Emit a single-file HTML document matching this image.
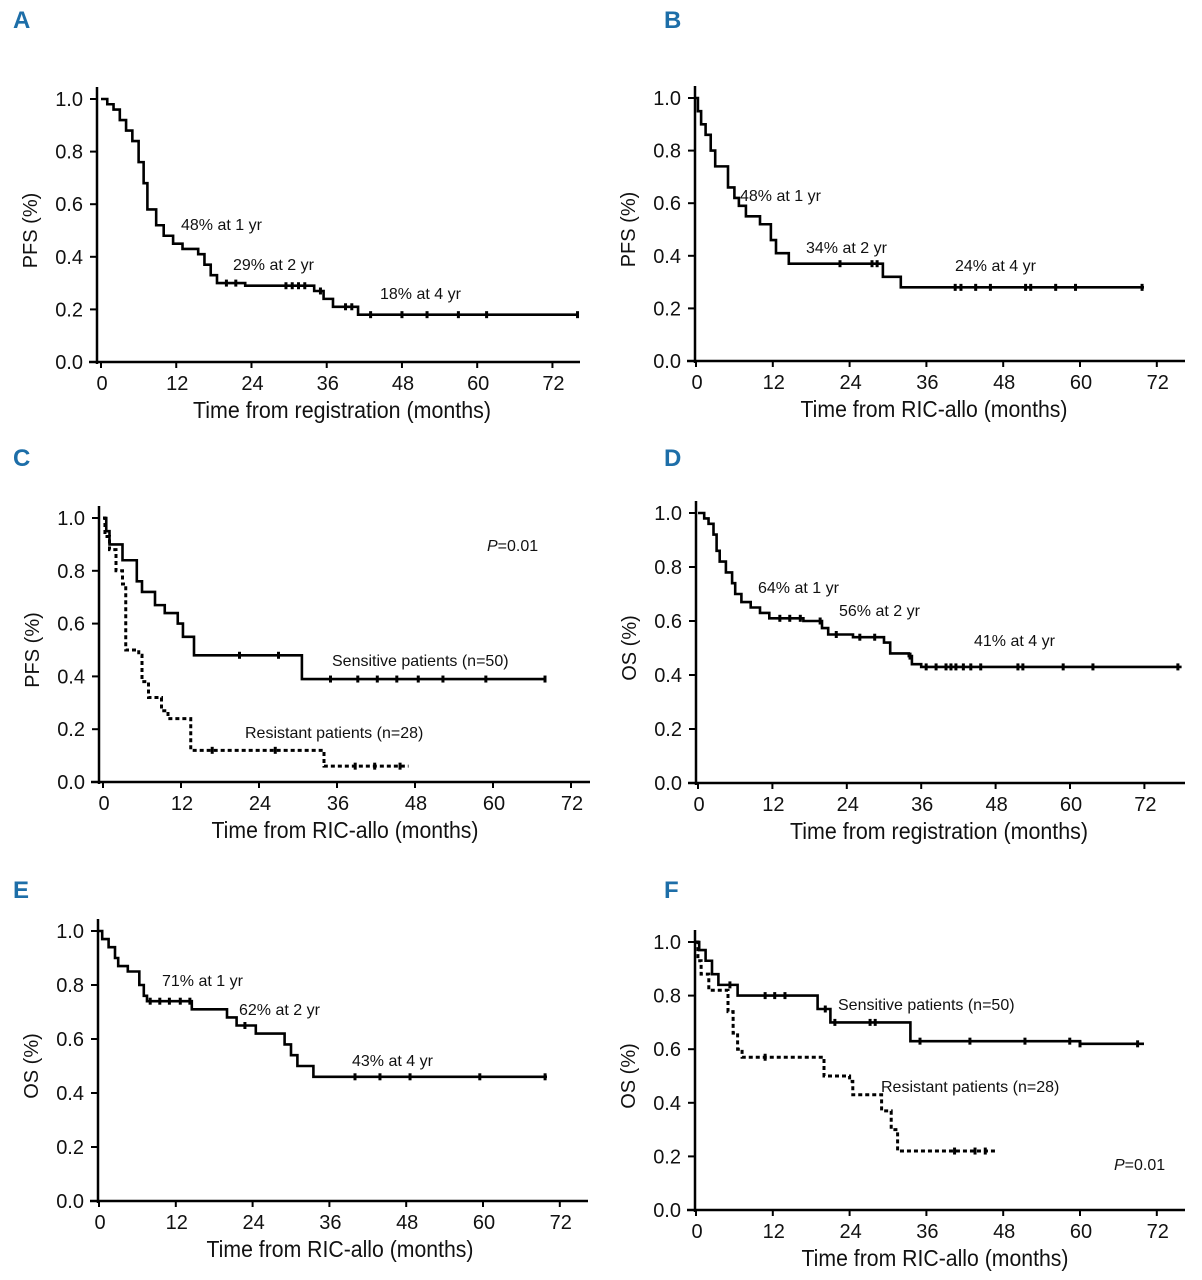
<!DOCTYPE html>
<html><head><meta charset="utf-8"><style>
body{margin:0;background:#fff;}
svg{display:block;font-family:"Liberation Sans Narrow","Liberation Sans",sans-serif;}
.tk{font-size:20px;fill:#111;}
.ttl{font-size:23px;fill:#111;}
.ann{font-size:16px;fill:#111;}
.let{font-size:24px;font-weight:bold;fill:#1d6ea8;font-family:"Liberation Sans Narrow","Liberation Sans",sans-serif;}
</style></head><body>
<svg id="fig" width="1202" height="1280" viewBox="0 0 1202 1280"></svg>
<script>
// Panel A data
const aTimes=[0,1,2,3,4,5,6,6.8,7.4,8.8,10,11.5,13,15.5,16.5,17.5,18.5,23,34,35.5,37,41,76];
const aSurv=[1,0.98,0.96,0.92,0.88,0.84,0.76,0.68,0.58,0.52,0.48,0.45,0.43,0.41,0.37,0.33,0.30,0.29,0.27,0.24,0.21,0.18,0.18];
const aCens=[20,21.5,29.5,30.5,31.5,32.5,35,39,40,43,48,52,57,61.5,76];
// Panel B data
const bTimes=[0,0.3,0.8,1.5,2.3,3,5,6,6.7,7.8,10,11.7,12.5,14.5,29.2,32,70];
const bSurv=[1,0.95,0.90,0.86,0.80,0.74,0.66,0.62,0.59,0.55,0.52,0.46,0.41,0.37,0.32,0.28,0.28];
const bCens=[22.5,27.5,28.3,40.5,41.4,43.7,46,51.5,52.3,56.2,59.3,69.7];
// Panel C data
const cSensTimes=[0,0.5,1,3,5.2,6,8,9.5,11.5,12.3,14,30.6,68];
const cSensSurv=[1,0.95,0.90,0.84,0.76,0.72,0.67,0.64,0.60,0.55,0.48,0.39,0.39];
const cSensCens=[21,27,35,39.2,42.2,45.2,48.5,52.3,58.9,68];
const cResTimes=[0,0.3,1,2,3,3.5,5.5,6,7,9,10,13.5,34,47];
const cResSurv=[1,0.93,0.88,0.80,0.75,0.50,0.48,0.38,0.32,0.27,0.24,0.12,0.06,0.06];
const cResCens=[16.8,26.5,38.8,41.8,45.7];
// Panel D data
const dTimes=[0,1,1.7,2.5,3,3.5,4.5,5.5,6,7,8.5,10,11.5,17,20,21,25,30,31,34,34.5,36,78];
const dSurv=[1,0.98,0.96,0.92,0.86,0.82,0.78,0.74,0.70,0.67,0.65,0.63,0.61,0.60,0.574,0.55,0.54,0.52,0.48,0.47,0.44,0.43,0.43];
const dCens=[13.2,14.8,16.5,19.7,22.3,26.1,28.5,34.2,36.8,38.4,40,40.8,41.6,42.8,44,45.6,51.6,52.4,58.9,63.7,77.4];
// Panel E data
const eTimes=[0,0.5,1.5,2.5,3,4.5,6.3,7,7.5,14.5,20,21.5,24.5,29,30,31,33.5,70];
const eSurv=[1,0.97,0.94,0.90,0.87,0.85,0.80,0.76,0.74,0.71,0.68,0.65,0.62,0.58,0.54,0.50,0.46,0.46];
const eCens=[8,9.5,11,12.7,14.2,22.8,40,43.9,48.6,59.5,69.7];
// Panel F data
const fSensTimes=[0,0.5,1.5,2.5,3.5,6.5,19,21,33.5,60,70];
const fSensSurv=[1,0.97,0.93,0.88,0.84,0.80,0.75,0.70,0.63,0.62,0.62];
const fSensCens=[5.3,10.8,12.3,13.9,20.2,21.7,27.2,28,35,42.8,51.4,58.4,60,69];
const fResTimes=[0,0.3,0.8,2,5,5.8,6.5,7.2,20,24,24.5,29,30.5,31.5,47];
const fResSurv=[1,0.93,0.88,0.82,0.74,0.66,0.60,0.57,0.50,0.48,0.43,0.37,0.30,0.22,0.22];
const fResCens=[10.8,40.4,43.6,45.2];

const yTicks=[0,0.2,0.4,0.6,0.8,1.0];
const yTickLabels=["0.0","0.2","0.4","0.6","0.8","1.0"];
const xTicks=[0,12,24,36,48,60,72];

const NS="http://www.w3.org/2000/svg";
const svg=document.getElementById('fig');
function mk(tag,attrs,parent){const e=document.createElementNS(NS,tag);for(const k in attrs)e.setAttribute(k,attrs[k]);(parent||svg).appendChild(e);return e;}
function survAt(times,surv,t){let s=surv[0];for(let i=0;i<times.length;i++){if(times[i]<=t)s=surv[i];}return s;}

function panel(cfg){
  const g=mk('g',{});
  
  
  const xs=t=>cfg.x0+t*cfg.ppm;
  const ys=v=>cfg.yb-(cfg.yb-cfg.yt)*v;
  const L=mk('text',{x:cfg.lx,y:cfg.ly,class:'let'},g);L.textContent=cfg.id;
  
  
  const ya=mk('line',{x1:cfg.ax,y1:cfg.yt-12,x2:cfg.ax,y2:cfg.yb+2,stroke:'#000','stroke-width':2.5},g);
  
  
  const xa=mk('line',{x1:cfg.ax-8,y1:cfg.yb,x2:cfg.xend,y2:cfg.yb,stroke:'#000','stroke-width':2.5},g);
  
  
  yTicks.forEach((v,i)=>{
    mk('line',{x1:cfg.ax-7,y1:ys(v),x2:cfg.ax,y2:ys(v),stroke:'#000','stroke-width':2},g);
    const t=mk('text',{x:cfg.ax-14,y:ys(v)+7,class:'tk','text-anchor':'end'},g);t.textContent=yTickLabels[i];
    
    
  });
  xTicks.forEach(v=>{
    mk('line',{x1:xs(v),y1:cfg.yb,x2:xs(v),y2:cfg.yb+6,stroke:'#000','stroke-width':2},g);
    const t=mk('text',{x:xs(v)+1,y:cfg.yb+28,class:'tk','text-anchor':'middle'},g);t.textContent=String(v);
    
    
  });
  const xt=mk('text',{x:cfg.xtx,y:cfg.yb+56,class:'ttl','text-anchor':'middle',textLength:cfg.xtlen,lengthAdjust:'spacingAndGlyphs'},g);xt.textContent=cfg.xtitle;
  
  
  const yy=(cfg.yt+cfg.yb)/2;
  const yt=mk('text',{x:cfg.ax-60,y:yy,class:'ttl','text-anchor':'middle',transform:`rotate(-90 ${cfg.ax-60} ${yy})`,style:'font-size:20px'},g);yt.textContent=cfg.ytitle;
  
  
  cfg.series.forEach(s=>{
    let d=`M${xs(s.times[0])},${ys(s.surv[0])}`;
    for(let i=1;i<s.times.length;i++){d+=` H${xs(s.times[i])} V${ys(s.surv[i])}`;}
    const p=mk('path',{d:d,fill:'none',stroke:'#000','stroke-width':s.dash?3:2.6,'stroke-dasharray':s.dash?'4 3':'none'},g);
    
    
    s.cens.forEach(t=>{
      const v=survAt(s.times,s.surv,t);
      const c=mk('rect',{x:xs(t)-1.5,y:ys(v)-3.5,width:3,height:7,fill:'#000'},g);
      
      
    });
  });
  cfg.anns.forEach(a=>{
    const t=mk('text',{x:a[0],y:a[1],class:'ann'},g);
    if(a[2].startsWith('P=')){const i=mk('tspan',{'font-style':'italic'},t);i.textContent='P';const r=mk('tspan',{},t);r.textContent=a[2].slice(1);}
    else t.textContent=a[2];
    
    
  });
}

panel({id:'A',lx:13,ly:28,ax:97,x0:101,ppm:6.27,yt:99,yb:362,xend:580,xtx:342,xtlen:298,xtitle:'Time from registration (months)',ytitle:'PFS (%)',
  series:[{name:'pfs-curve',times:aTimes,surv:aSurv,cens:aCens}],
  anns:[[181,230,'48% at 1 yr'],[233,270,'29% at 2 yr'],[380,299,'18% at 4 yr']]});
panel({id:'B',lx:664,ly:28,ax:695,x0:696,ppm:6.4,yt:98,yb:361,xend:1185,xtx:934,xtlen:267,xtitle:'Time from RIC-allo (months)',ytitle:'PFS (%)',
  series:[{name:'pfs-curve',times:bTimes,surv:bSurv,cens:bCens}],
  anns:[[740,201,'48% at 1 yr'],[806,253,'34% at 2 yr'],[955,271,'24% at 4 yr']]});
panel({id:'C',lx:13,ly:466,ax:99,x0:103,ppm:6.5,yt:518,yb:782,xend:590,xtx:345,xtlen:267,xtitle:'Time from RIC-allo (months)',ytitle:'PFS (%)',
  series:[{name:'sensitive-curve',times:cSensTimes,surv:cSensSurv,cens:cSensCens},{name:'resistant-curve',dash:true,times:cResTimes,surv:cResSurv,cens:cResCens}],
  anns:[[487,551,'P=0.01'],[332,666,'Sensitive patients (n=50)'],[245,738,'Resistant patients (n=28)']]});
panel({id:'D',lx:664,ly:466,ax:696,x0:698,ppm:6.2,yt:513,yb:783,xend:1185,xtx:939,xtlen:298,xtitle:'Time from registration (months)',ytitle:'OS (%)',
  series:[{name:'os-curve',times:dTimes,surv:dSurv,cens:dCens}],
  anns:[[758,593,'64% at 1 yr'],[839,616,'56% at 2 yr'],[974,646,'41% at 4 yr']]});
panel({id:'E',lx:13,ly:898,ax:98,x0:99,ppm:6.4,yt:931,yb:1201,xend:588,xtx:340,xtlen:267,xtitle:'Time from RIC-allo (months)',ytitle:'OS (%)',
  series:[{name:'os-curve',times:eTimes,surv:eSurv,cens:eCens}],
  anns:[[162,986,'71% at 1 yr'],[239,1015,'62% at 2 yr'],[352,1066,'43% at 4 yr']]});
panel({id:'F',lx:664,ly:898,ax:695,x0:696,ppm:6.4,yt:942,yb:1210,xend:1185,xtx:935,xtlen:267,xtitle:'Time from RIC-allo (months)',ytitle:'OS (%)',
  series:[{name:'sensitive-curve',times:fSensTimes,surv:fSensSurv,cens:fSensCens},{name:'resistant-curve',dash:true,times:fResTimes,surv:fResSurv,cens:fResCens}],
  anns:[[838,1010,'Sensitive patients (n=50)'],[881,1092,'Resistant patients (n=28)'],[1114,1170,'P=0.01']]});
</script>
</body></html>
